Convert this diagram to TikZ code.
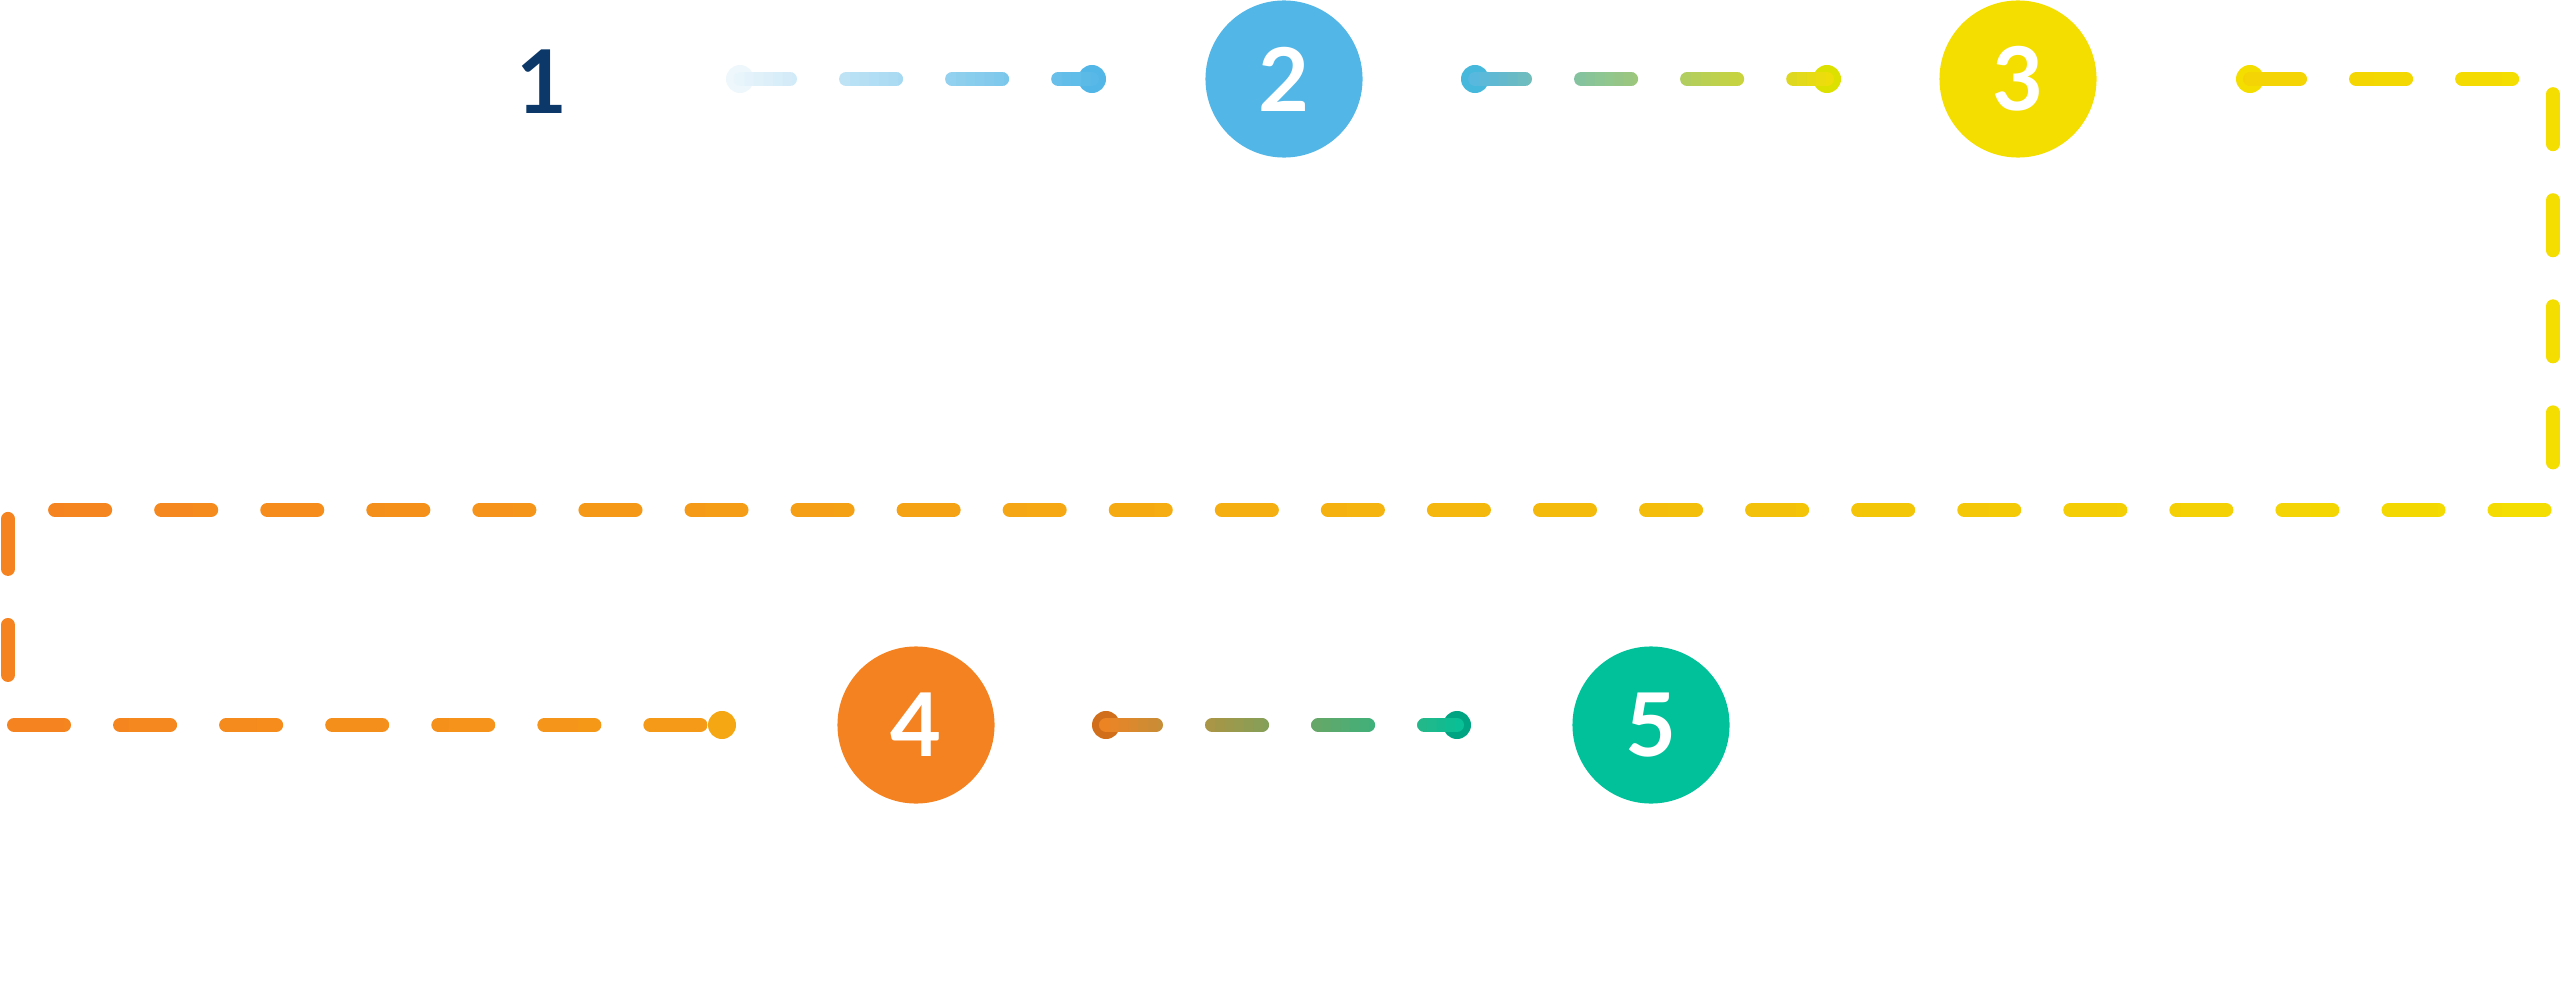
\documentclass[tikz,border=0pt]{standalone}
\usepackage{fontspec}
\setmainfont{Lato}
\definecolor{cblue}{HTML}{52B6E6}
\definecolor{cyel}{HTML}{F4DE00}
\definecolor{cora}{HTML}{F58220}
\definecolor{cgrn}{HTML}{00C19A}
\definecolor{cpale}{HTML}{EEF7FC}
\definecolor{cnavy}{HTML}{0B3868}
\tikzset{
  dl/.style={line width=0.14cm,line cap=round,line join=round,dash pattern=on 0.5cm off 0.56cm},
  big/.style={circle,minimum size=1.57cm,inner sep=0pt,text=white,font=\bfseries\fontsize{25}{25}\selectfont},
  dotn/.style={circle,minimum size=0.28cm,inner sep=0pt}
}
\newcommand\gradline[5]{%
 \foreach \k in {0,...,39}{%
  \pgfmathsetmacro\xa{#1+(#2-#1)/40*\k}%
  \pgfmathsetmacro\xb{#1+(#2-#1)/40*(\k+1)+0.6}%
  \pgfmathsetmacro\pp{100*(\k+0.5)/40}%
  \begin{scope}\clip (\xa,-100) rectangle (\xb,1100);
   \colorlet{gc}{#4!\pp!#3}\draw[dl,gc] #5;\end{scope}}}
\begin{document}
\begin{tikzpicture}[x=0.01cm,y=-0.01cm]
\useasboundingbox (0,0) rectangle (2566,982);
\node[text=cnavy,font=\bfseries\fontsize{25}{25}\selectfont] (n1) at (542,82) {1};
\node[big,fill=cblue] (n2) at (1284,79) {2};
\node[big,fill=cyel] (n3) at (2018,79) {3};
\node[big,fill=cora] (n4) at (916,725) {4};
\node[big,fill=cgrn] (n5) at (1651,725) {5};
\coordinate (c1) at (2553,79);
\coordinate (c2) at (2553,510);
\coordinate (c3) at (8,510);
\coordinate (c4) at (8,725);
\node[dotn,fill=cpale] (a1) at (740,79) {};
\node[dotn,fill=cblue] (a2) at (1092,79) {};
\node[dotn,fill=cblue!85!cgrn] (b1) at (1475,79) {};
\node[dotn,fill=cyel!90!green] (b2) at (1827,79) {};
\node[dotn,fill=cyel] (s1) at (2250,79) {};
\node[dotn,fill=cora!60!cyel] (s2) at (722,725) {};
\node[dotn,fill=cora!85!black] (g1) at (1106,725) {};
\node[dotn,fill=cgrn!85!black] (g2) at (1457,725) {};
\gradline{725}{1110}{cpale}{cblue}{(a1.center) -- (a2.center)}
\gradline{1460}{1845}{cblue}{cyel}{(b1.center) -- (b2.center)}
\gradline{0}{2566}{cora}{cyel}{(s1.center) -- (c1) -- (c2) -- (c3) -- (c4) -- (s2.center)}
\gradline{1090}{1475}{cora}{cgrn}{(g1.center) -- (g2.center)}
\end{tikzpicture}
\end{document}
